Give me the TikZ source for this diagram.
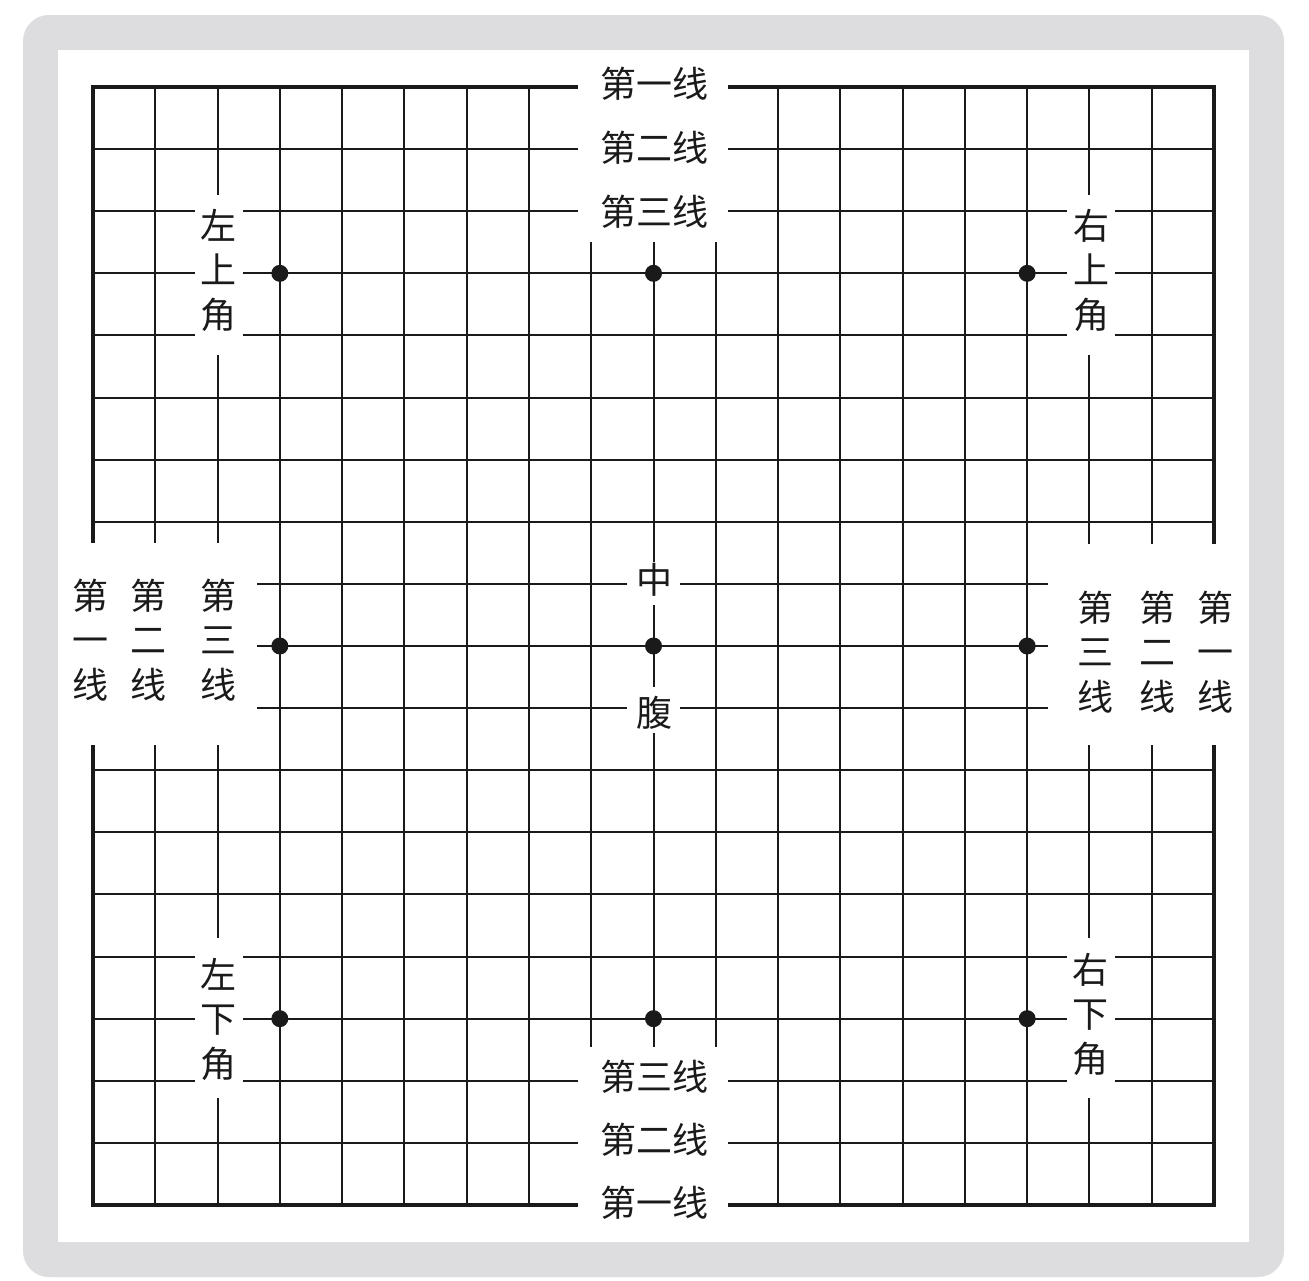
\documentclass[tikz,border=0pt]{standalone}
\usepackage{fontspec}
\newfontfamily\cjk{Noto Sans CJK SC}
\begin{document}
\begin{tikzpicture}[x=1pt,y=-1pt,
  gridline/.style={line width=2pt, draw=ink},
  boardedge/.style={line width=4.2pt, draw=ink},
  mask/.style={fill=white},
  hlabel/.style={font=\cjk\fontsize{36}{44.5}\selectfont, text=ink, inner sep=0pt},
  vlabel/.style={font=\cjk\fontsize{36}{44.5}\selectfont, text=ink, inner sep=0pt, align=center},
  star/.style={fill=ink}
]
\definecolor{ink}{RGB}{26,26,26}
\definecolor{frame}{RGB}{221,221,223}
% canvas and frame
\path[use as bounding box] (0,0) rectangle (1309,1280);
\fill[white] (0,0) rectangle (1309,1280);
\fill[frame, rounded corners=26pt] (23,15) rectangle (1284,1277);
\fill[white] (58,50) rectangle (1249,1242);
% grid
\foreach \i in {1,...,17} \draw[gridline] (93,{87+\i*62.111}) -- (1214,{87+\i*62.111});
\foreach \j in {1,...,17} \draw[gridline] ({93+\j*62.278},87) -- ({93+\j*62.278},1205);
\draw[boardedge] (93,87) rectangle (1214,1205);
% star points
\foreach \a in {3,9,15} \foreach \b in {3,9,15}
  \fill[star] ({93+\a*62.278},{87+\b*62.111}) circle (8.5);
% white gaps behind labels
\fill[mask] (578,55) rectangle (728,242);
\fill[mask] (578,1047) rectangle (728,1237);
\fill[mask] (60,543) rectangle (257,745);
\fill[mask] (1048,544) rectangle (1247,745);
\fill[mask] (195,195) rectangle (243,355);
\fill[mask] (1067,195) rectangle (1115,355);
\fill[mask] (195,938) rectangle (243,1098);
\fill[mask] (1067,938) rectangle (1115,1098);
\fill[mask] (627,562) rectangle (680,605);
\fill[mask] (627,687) rectangle (680,733);
% labels
\node[hlabel] (t1) at (654,84) {第一线};
\node[hlabel] (t2) at (654,148) {第二线};
\node[hlabel] (t3) at (654,212) {第三线};
\node[hlabel] (b3) at (654,1077) {第三线};
\node[hlabel] (b2) at (654,1140) {第二线};
\node[hlabel] (b1) at (654,1203) {第一线};
\node[vlabel] (ul) at (218,270) {左\\上\\角};
\node[vlabel] (ur) at (1091,270) {右\\上\\角};
\node[vlabel] (dl) at (218,1019) {左\\下\\角};
\node[vlabel] (dr) at (1090,1014) {右\\下\\角};
\node[vlabel] (l1) at (90,640) {第\\一\\线};
\node[vlabel] (l2) at (148,640) {第\\二\\线};
\node[vlabel] (l3) at (218,640) {第\\三\\线};
\node[vlabel] (r3) at (1095,652) {第\\三\\线};
\node[vlabel] (r2) at (1157,652) {第\\二\\线};
\node[vlabel] (r1) at (1215,652) {第\\一\\线};
\node[hlabel] (zh) at (654,580) {中};
\node[hlabel] (fu) at (654,713) {腹};
\end{tikzpicture}
\end{document}
